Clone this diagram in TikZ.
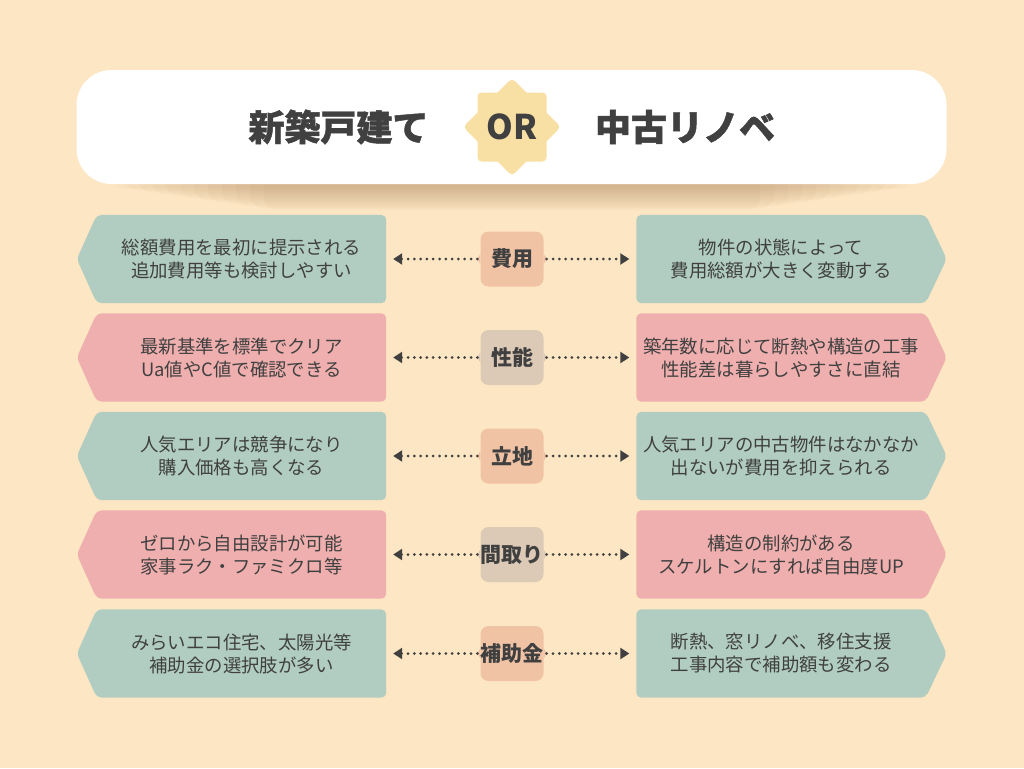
\documentclass[tikz,border=0pt]{standalone}
\usepackage{fontspec}
\setmainfont{Noto Sans CJK JP}
\usetikzlibrary{arrows.meta}
\pgfdeclarelayer{back}
\pgfdeclarelayer{bg}
\pgfsetlayers{back,bg,main}
\definecolor{bgc}{HTML}{FDE6C3}
\definecolor{boxg}{HTML}{B1CDC1}
\definecolor{boxp}{HTML}{EFAFAE}
\definecolor{lpeach}{HTML}{F1C3A5}
\definecolor{lbeige}{HTML}{DCCAB7}
\definecolor{starc}{HTML}{F8E0A5}
\definecolor{ink}{HTML}{404040}
\definecolor{shadowc}{HTML}{8C6030}
\tikzset{
  txt/.style={text=ink, font=\fontsize{18.4}{23}\selectfont, align=center,
    minimum width=289pt, minimum height=88pt, inner sep=0pt},
  lbl/.style={font=\bfseries\fontsize{21}{24}\selectfont, text=ink,
    minimum width=63pt, minimum height=55pt, inner sep=0pt, rounded corners=8pt},
  dots/.style={line width=3pt, dash pattern=on 0pt off 6.3pt, line cap=round,
    draw=ink, -{Triangle[length=9pt,width=11pt]}},
  title/.style={font=\bfseries\addfontfeature{FakeBold=1.3}\fontsize{36}{40}\selectfont, text=ink, inner sep=0pt},
}
\newcommand\myrow[7]{%
  \node[txt] (L#1) at (241.5,#2) {#6};
  \node[txt] (R#1) at (781,#2) {#7};
  \node[lbl, fill=#4] (C#1) at (512,#2) {#5};
  \begin{pgfonlayer}{bg}
    \fill[#3, rounded corners=5pt] (L#1.north west) -- (L#1.north east) -- (L#1.south east)
      -- (L#1.south west) -- ([xshift=-20pt]L#1.west) -- cycle;
    \fill[#3, rounded corners=5pt] (R#1.north west) -- (R#1.north east) -- ([xshift=21pt]R#1.east)
      -- (R#1.south east) -- (R#1.south west) -- cycle;
    \fill[#4] ([yshift=-5pt]C#1.west) -- ([xshift=-3pt]C#1.west) -- ([yshift=5pt]C#1.west) -- cycle;
    \fill[#4] ([yshift=-5pt]C#1.east) -- ([xshift=3pt]C#1.east) -- ([yshift=5pt]C#1.east) -- cycle;
  \end{pgfonlayer}
  \draw[dots, shorten <=3pt, shorten >=7pt] (C#1.west) -- (L#1.east);
  \draw[dots, shorten <=3pt, shorten >=7pt] (C#1.east) -- (R#1.west);
}
\begin{document}
\begin{tikzpicture}[x=1pt,y=-1pt]
\useasboundingbox (0,0) rectangle (1024,768);
\begin{pgfonlayer}{back}
  \fill[bgc] (0,0) rectangle (1024,768);
  \foreach \k in {0,...,11}
    \fill[shadowc, opacity=0.03, rounded corners=12pt] (110+\k*14,150) rectangle (914-\k*14,188+\k*2);
\end{pgfonlayer}
% header
\node[fill=white, rounded corners=35pt, minimum width=870pt, minimum height=114pt, inner sep=0pt] (H) at (511.5,127) {};
\node[title] (T1) at (338.5,127) {新築戸建て};
\node[title] (T2) at (685,127) {中古リノベ};
\fill[starc, rounded corners=4pt] (477.5,92.5) rectangle (546.5,161.5);
\fill[starc, rounded corners=4pt, rotate around={45:(512,127)}] (477.5,92.5) rectangle (546.5,161.5);
\node[font=\bfseries\fontsize{34}{38}\selectfont, text=ink, inner sep=0pt] (OR) at (512,127) {OR};
% rows
\myrow{1}{259}{boxg}{lpeach}{費用}{総額費用を最初に提示される\\追加費用等も検討しやすい}{物件の状態によって\\費用総額が大きく変動する}
\myrow{2}{357.5}{boxp}{lbeige}{性能}{最新基準を標準でクリア\\Ua値やC値で確認できる}{築年数に応じて断熱や構造の工事\\性能差は暮らしやすさに直結}
\myrow{3}{456}{boxg}{lpeach}{立地}{人気エリアは競争になり\\購入価格も高くなる}{人気エリアの中古物件はなかなか\\出ないが費用を抑えられる}
\myrow{4}{554.5}{boxp}{lbeige}{間取り}{ゼロから自由設計が可能\\家事ラク・ファミクロ等}{構造の制約がある\\スケルトンにすれば自由度UP}
\myrow{5}{653.5}{boxg}{lpeach}{補助金}{みらいエコ住宅、太陽光等\\補助金の選択肢が多い}{断熱、窓リノベ、移住支援\\工事内容で補助額も変わる}
\end{tikzpicture}
\end{document}
